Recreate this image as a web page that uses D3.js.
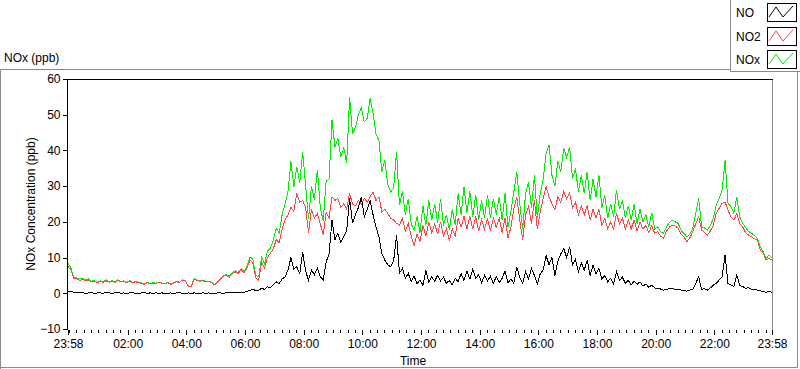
<!DOCTYPE html>
<html><head><meta charset="utf-8">
<script src="https://cdn.jsdelivr.net/npm/d3@7"></script>
<style>
body{margin:0;background:#fff;}
svg text{font-family:"Liberation Sans",Arial,sans-serif;font-size:12px;fill:#000;}
</style></head>
<body><svg id="c" width="800" height="369"></svg>
<script>
// ---- data (6-minute samples from 23:58 to 23:58 next day) ----
const seriesNames = ["NO", "NO2", "NOx"];
const seriesColors = ["#000000", "#ff4545", "#00ee00"];
const sampleMinutes = 6;
const yTickValues = [-10, 0, 10, 20, 30, 40, 50, 60];
const xTickLabels = ["23:58","02:00","04:00","06:00","08:00","10:00","12:00","14:00","16:00","18:00","20:00","22:00","23:58"];

const NO = [0.6,0.5,0.3,0.2,0.1,0.2,0.0,0.1,0.2,0.0,0.1,0.1,0.0,0.2,0.1,0.0,0.1,0.2,0.0,0.1,
0.0,0.1,0.2,0.0,0.0,0.1,0.2,0.0,0.1,0.0,0.1,0.0,0.1,0.0,0.0,0.1,0.0,0.1,0.2,0.0,
0.0,0.1,0.0,0.1,0.0,0.0,0.1,0.0,0.1,0.0,0.0,0.1,0.1,0.0,0.2,0.1,0.2,0.1,0.2,0.3,
0.3,0.5,0.8,1.2,0.7,0.9,1.4,1.1,1.8,1.5,2.4,3.2,2.7,4.0,4.6,6.5,10.0,6.8,7.4,5.5,
11.6,6.2,3.7,6.5,5.2,7.0,4.6,3.8,8.8,11.0,20.5,15.0,16.8,14.2,15.8,17.5,26.6,19.6,22.0,24.0,
27.0,21.4,23.5,26.0,22.0,18.6,15.8,11.2,9.3,8.0,7.4,9.0,16.3,5.6,7.0,4.2,5.6,3.2,4.8,2.6,
3.8,2.2,6.5,3.2,4.6,3.4,5.0,3.5,4.5,2.8,3.6,2.4,4.2,3.2,5.5,3.6,6.2,4.0,6.8,4.2,
5.2,3.0,5.0,3.4,4.8,2.8,4.6,3.0,4.2,6.3,3.0,4.0,2.8,7.4,4.5,2.8,6.0,4.0,7.0,5.0,
2.6,5.5,6.5,10.5,8.0,10.0,5.0,9.0,11.0,12.5,10.0,13.0,8.0,9.5,6.0,8.5,6.5,9.3,5.0,7.9,
5.5,7.0,4.0,5.0,3.2,4.2,2.6,6.0,3.5,4.5,2.8,3.6,2.3,3.4,2.5,3.2,2.0,2.6,1.7,2.3,
1.5,1.4,1.2,0.9,1.1,1.3,1.4,1.0,1.1,0.9,0.8,0.6,0.9,1.1,2.8,4.6,1.1,1.3,0.9,1.5,
2.3,2.8,3.7,4.6,10.7,2.8,2.3,1.9,5.1,2.2,1.9,1.4,1.6,1.1,1.2,0.9,0.7,0.5,0.3,0.5,
0.3];

const NO2 = [7.5,6.5,4.2,4.0,3.6,3.9,3.5,3.7,3.2,3.4,2.9,3.3,3.0,3.5,3.1,3.4,3.0,3.6,3.2,3.3,
3.0,3.4,2.9,3.2,3.0,2.8,2.5,3.0,2.6,2.9,2.7,3.1,2.8,2.6,3.0,2.5,2.8,3.2,3.0,3.7,
3.4,2.0,1.8,4.0,3.6,3.4,3.5,3.2,3.3,2.9,2.4,3.2,4.0,4.8,5.0,4.5,5.6,6.0,5.5,6.6,
5.8,7.0,9.3,8.5,4.3,3.7,8.7,7.2,10.0,11.2,12.5,15.0,14.2,18.0,20.5,22.0,24.0,23.0,28.0,25.5,
26.0,24.0,17.0,23.5,21.0,22.4,19.5,16.4,22.6,21.0,27.0,26.0,26.5,24.0,25.0,23.5,28.0,25.0,24.5,26.0,
25.0,26.6,25.5,27.0,28.4,26.0,27.0,22.8,23.5,22.4,21.0,20.5,19.6,19.1,21.0,17.5,19.5,16.0,13.5,16.5,
14.5,19.0,16.0,20.0,17.0,19.5,16.5,20.0,16.0,18.0,14.8,18.0,16.0,21.0,18.5,21.5,18.0,21.5,18.0,21.5,
17.5,20.5,18.0,21.0,17.5,21.0,18.5,21.0,17.0,21.0,15.5,18.5,23.8,27.0,20.5,15.0,22.0,24.3,19.5,26.1,
18.0,23.0,26.5,29.9,27.0,25.0,23.5,27.0,25.5,28.5,26.5,28.0,24.0,25.5,22.0,24.5,22.0,24.5,20.5,23.5,
21.0,23.5,19.0,21.0,18.0,20.0,18.0,22.4,19.5,21.0,18.0,20.5,18.0,20.5,17.5,20.0,18.0,19.0,17.0,19.0,
16.8,17.3,16.0,15.4,17.3,18.5,19.1,18.8,18.2,16.5,15.8,14.5,15.5,17.3,19.5,21.4,17.7,17.0,16.3,17.5,
19.1,22.4,23.8,25.2,25.6,23.3,21.4,20.5,22.4,19.5,18.6,17.0,16.3,15.8,15.3,14.9,12.1,11.2,9.3,9.8,
9.3];

const NOx = [8.5,7.0,4.5,4.3,4.0,4.2,3.8,4.0,3.4,3.6,3.1,3.5,3.2,3.8,3.2,3.6,3.1,3.8,3.3,3.5,
3.1,3.6,3.0,3.3,3.1,2.9,2.6,3.1,2.7,3.0,2.8,3.2,2.9,2.7,3.1,2.6,2.9,3.3,3.1,3.8,
3.5,2.1,1.9,4.2,3.7,3.5,3.6,3.3,3.4,3.0,2.5,3.3,4.1,5.0,5.2,4.7,5.8,6.3,5.8,6.9,
6.1,7.5,10.1,9.7,5.0,4.6,10.1,8.3,11.8,12.7,14.9,18.2,16.9,22.0,25.1,28.5,37.0,29.8,35.4,31.0,
39.6,30.2,20.7,30.0,26.2,34.6,24.1,20.2,31.4,32.0,48.5,41.0,43.3,38.2,40.8,36.4,55.0,44.6,46.5,50.0,
52.0,48.0,49.0,54.6,50.4,44.6,42.8,34.0,37.3,30.4,28.4,29.5,39.6,24.7,28.5,22.0,26.5,19.5,17.7,21.5,
17.0,24.5,19.0,26.0,20.5,25.0,19.8,26.5,19.0,22.0,17.8,23.5,19.0,28.0,22.0,29.8,22.5,28.5,21.5,27.5,
20.5,26.0,21.0,27.5,21.0,26.5,22.0,27.0,20.5,28.0,18.5,23.0,28.5,34.0,25.0,18.0,28.0,31.0,24.0,33.0,
21.0,28.0,32.0,39.2,41.5,33.0,30.0,37.0,34.0,40.6,38.0,41.0,32.0,35.0,28.5,33.0,28.0,34.0,26.0,32.0,
27.0,33.0,24.0,27.5,21.0,25.0,21.5,29.0,23.5,26.0,21.0,24.5,20.5,25.0,19.5,23.5,20.0,22.0,18.5,22.5,
18.0,18.6,17.2,16.8,18.6,19.8,20.5,20.0,19.6,17.6,16.8,15.8,16.6,18.2,22.4,26.6,18.6,18.3,17.7,19.0,
21.0,24.7,26.6,28.9,37.3,25.2,24.3,22.4,27.0,21.4,19.6,18.4,17.3,16.8,16.2,15.4,13.0,11.6,9.8,10.7,
9.8];

// ---- setup ----
const svg = d3.select("#c");
const start = new Date(2000, 0, 1, 23, 58);
const end = new Date(2000, 0, 2, 23, 58);
const times = NO.map((_, i) => new Date(+start + i * sampleMinutes * 60000));

const x = d3.scaleTime().domain([start, end]).range([68, 772]);
const y = d3.scaleLinear().domain([-10, 60]).range([329, 79]);

const frameCol = "#8a8a8a";
svg.append("path").attr("d", "M0.5,369 V69.5 H730.5 V0")
  .attr("fill","none").attr("stroke",frameCol);
svg.append("path").attr("d", "M730.5,0 V71.5 H800")
  .attr("fill","none").attr("stroke",frameCol);
svg.append("path").attr("d", "M797.5,71.5 V367.5 H0.5")
  .attr("fill","none").attr("stroke",frameCol);

svg.append("text").attr("x", 4).attr("y", 62).text("NOx (ppb)");

svg.append("line").attr("x1", 772.5).attr("x2", 772.5).attr("y1", 79).attr("y2", 330)
  .attr("stroke", "#8a8a8a");
svg.append("line").attr("x1", 67).attr("x2", 773).attr("y1", 79.5).attr("y2", 79.5)
  .attr("stroke", "#000");

// series
const line = d3.line().x((d, i) => x(times[i])).y(d => y(d));
const seriesData = [NOx, NO2, NO];
const seriesCol = [seriesColors[2], seriesColors[1], seriesColors[0]];
seriesData.forEach((s, k) => {
  svg.append("path").datum(s).attr("d", line)
    .attr("fill", "none").attr("stroke", seriesCol[k]).attr("stroke-width", 1)
    .style("shape-rendering", "crispEdges");
});

// y axis
const yAx = svg.append("g").attr("transform", "translate(67.5,0)")
  .call(d3.axisLeft(y).tickValues(yTickValues).tickSize(5).tickSizeOuter(0).tickPadding(2));
yAx.select(".domain").attr("stroke", "#000").attr("d", "M0,79V330");
yAx.selectAll("text").style("font-size", "12px").style("font-family", "Liberation Sans, Arial, sans-serif").attr("fill", "#000");

svg.append("text").attr("transform", "translate(35,204) rotate(-90)")
  .attr("text-anchor", "middle").text("NOx Concentration (ppb)");

// x axis ticks
const majorTicks = xTickLabels.map((lab, i) => {
  if (i === 0) return start;
  if (i === xTickLabels.length - 1) return end;
  const [h, m] = lab.split(":").map(Number);
  return new Date(2000, 0, 2, h, m);
});
const minorTicks = d3.timeMinute.every(15).range(new Date(2000, 0, 2, 0, 0), end);

const xMinor = svg.append("g").attr("transform", "translate(0,330)")
  .call(d3.axisBottom(x).tickValues(minorTicks).tickSize(3).tickFormat(""));
xMinor.select(".domain").remove();

const xAx = svg.append("g").attr("transform", "translate(0,330)")
  .call(d3.axisBottom(x).tickValues(majorTicks).tickSize(5).tickPadding(4)
    .tickFormat((d, i) => xTickLabels[i]));
xAx.select(".domain").remove();
xAx.selectAll("text").style("font-size", "12px").style("font-family", "Liberation Sans, Arial, sans-serif").attr("fill", "#000");
svg.selectAll(".tick line").style("shape-rendering", "crispEdges");

svg.append("text").attr("x", 413).attr("y", 365).attr("text-anchor", "middle").text("Time");

// legend
const legTop = [3, 27, 50];
seriesNames.forEach((n, i) => {
  const ty = legTop[i];
  svg.append("text").attr("x", 736).attr("y", ty + 14).text(n);
  svg.append("rect").attr("x", 767.5).attr("y", ty + 0.5).attr("width", 29).attr("height", 18)
    .attr("fill", "#fff").attr("stroke", "#000");
  svg.append("polyline")
    .attr("points", [[769, ty + 14], [776, ty + 4], [783, ty + 14], [793, ty + 3]].map(p => p.join(",")).join(" "))
    .attr("fill", "none").attr("stroke", seriesColors[i]);
});
</script>
</body></html>
